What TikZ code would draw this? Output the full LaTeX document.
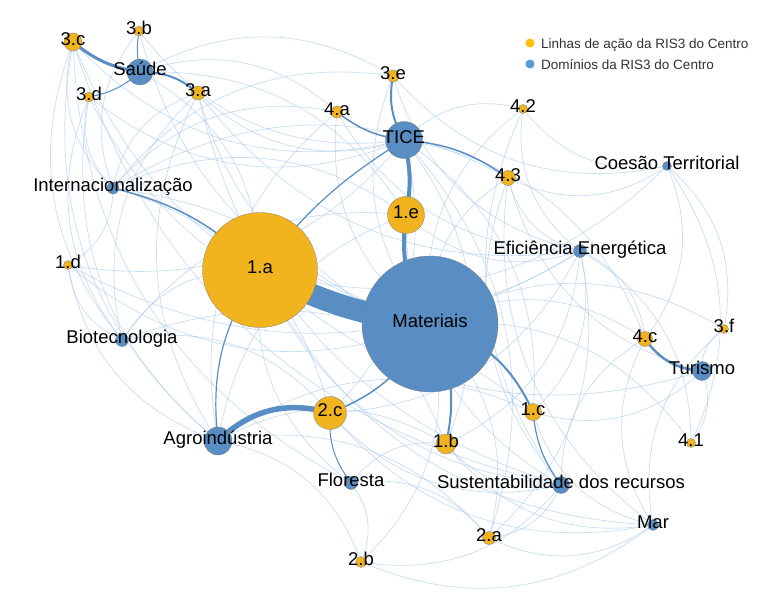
\documentclass[tikz,border=0pt]{standalone}
\usepackage{fontspec}
\setmainfont{Liberation Sans}
\pgfdeclarelayer{bg}
\pgfsetlayers{bg,main}
\definecolor{yel}{RGB}{242,180,30}
\definecolor{blu}{RGB}{88,142,196}
\definecolor{thinc}{RGB}{165,198,232}
\definecolor{rim}{RGB}{125,125,125}
\definecolor{legy}{RGB}{255,192,0}
\definecolor{legb}{RGB}{91,155,213}
\definecolor{legt}{RGB}{50,50,50}
\tikzset{
  lab/.style={font=\fontsize{18.5}{20}\selectfont, text=black, inner sep=0pt, text height=13.3pt, text depth=7pt},
  yn/.style={circle, fill=yel, draw=rim, line width=0.3pt, inner sep=0pt, minimum size=#1},
  bn/.style={circle, fill=blu, draw=rim, line width=0.3pt, inner sep=0pt, minimum size=#1},
  te/.style={draw=thinc, line width=0.7pt, opacity=0.6},
  me/.style={draw=blu, line width=#1},
  legtext/.style={font=\fontsize{13.5}{15}\selectfont, text=legt, anchor=base west, inner sep=0pt}
}
\begin{document}
\begin{tikzpicture}[x=1pt,y=-1pt]
\useasboundingbox (0,0) rectangle (780,616);
% yellow nodes (linhas de acao)
\node[yn=18]  (c3)  at (73,42)   [label={[lab]center:3.c}] {};
\node[yn=10]  (b3)  at (139,31)  [label={[lab]center:3.b}] {};
\node[yn=10]  (d3)  at (89,97)   [label={[lab]center:3.d}] {};
\node[yn=14]  (a3)  at (198,93)  [label={[lab]center:3.a}] {};
\node[yn=12]  (e3)  at (393,76)  [label={[lab]center:3.e}] {};
\node[yn=12]  (a4)  at (337,112) [label={[lab]center:4.a}] {};
\node[yn=9]   (n42) at (523,109) [label={[lab]center:4.2}] {};
\node[yn=15]  (n43) at (508,178) [label={[lab]center:4.3}] {};
\node[yn=37]  (e1)  at (406,215) [label={[lab]center:1.e}] {};
\node[yn=115] (a1)  at (260,270) [label={[lab]center:1.a}] {};
\node[yn=9]   (d1)  at (68,265)  [label={[lab]center:1.d}] {};
\node[yn=15]  (c4)  at (645,339) [label={[lab]center:4.c}] {};
\node[yn=9]   (f3)  at (724,329) [label={[lab]center:3.f}] {};
\node[yn=33]  (c2)  at (330,413) [label={[lab]center:2.c}] {};
\node[yn=17]  (c1)  at (533,412) [label={[lab]center:1.c}] {};
\node[yn=20]  (b1)  at (446,444) [label={[lab]center:1.b}] {};
\node[yn=9]   (n41) at (691,443) [label={[lab]center:4.1}] {};
\node[yn=13]  (a2)  at (489,538) [label={[lab]center:2.a}] {};
\node[yn=11]  (b2)  at (361,562) [label={[lab]center:2.b}] {};
% blue nodes (dominios)
\node[bn=26]  (sau)   at (140,72)  [label={[lab]center:Saúde}] {};
\node[bn=37]  (tice)  at (404,140) [label={[lab]center:TICE}] {};
\node[bn=12]  (inter) at (113,188) [label={[lab]center:Internacionalização}] {};
\node[bn=9]   (coes)  at (667,166) [label={[lab]center:Coesão Territorial}] {};
\node[bn=13]  (efic)  at (580,251) [label={[lab]center:Eficiência Energética}] {};
\node[bn=136] (mat)   at (430,324) [label={[lab]center:Materiais}] {};
\node[bn=13]  (biot)  at (122,340) [label={[lab]center:Biotecnologia}] {};
\node[bn=19]  (tur)   at (702,371) [label={[lab]center:Turismo}] {};
\node[bn=28]  (agro)  at (218,441) [label={[lab]center:Agroindústria}] {};
\node[bn=13]  (flor)  at (351,483) [label={[lab]center:Floresta}] {};
\node[bn=17]  (sust)  at (561,485) [label={[lab]center:Sustentabilidade dos recursos}] {};
\node[bn=11]  (mar)   at (653,525) [label={[lab]center:Mar}] {};
% legend
\node[circle, fill=legy, inner sep=0pt, minimum size=9] (ly) at (530,43) {};
\node[legtext] (lyt) at (541,48) {Linhas de ação da RIS3 do Centro};
\node[circle, fill=legb, inner sep=0pt, minimum size=9] (lb) at (530,64) {};
\node[legtext] (lbt) at (541,69) {Domínios da RIS3 do Centro};
\begin{pgfonlayer}{bg}
% thin edges
\foreach \s/\t in {c3/inter, c3/biot, c3/agro, c3/flor, c3/tice, c3/mat, c3/sust,
  b3/inter, b3/tice, b3/mat,
  d3/inter, d3/biot, d3/agro, d3/mat, d3/tice,
  a3/tice, a3/mat, a3/inter, a3/efic, a3/agro, a3/sust, a3/biot,
  e3/inter, e3/sau, e3/efic, e3/coes, e3/mat,
  a4/sau, a4/inter, a4/mat, a4/efic, a4/agro,
  n42/tice, n42/coes, n42/mat, n42/efic, n42/sust,
  n43/mat, n43/efic, n43/coes, n43/inter, n43/tur, n43/sust, n43/mar,
  e1/inter, e1/efic, e1/sust, e1/agro, e1/biot, e1/sau,
  a1/biot, a1/sau, a1/efic, a1/sust, a1/tur, a1/flor, a1/mar, a1/coes,
  d1/inter, d1/mat, d1/biot, d1/tice, d1/agro, d1/efic,
  c4/efic, c4/mat, c4/coes, c4/sust, c4/mar, c4/tice,
  f3/tur, f3/coes, f3/mat, f3/mar,
  c2/sust, c2/tice, c2/biot, c2/efic, c2/inter, c2/mar,
  c1/efic, c1/tur, c1/agro, c1/tice, c1/mar, c1/biot,
  b1/sust, b1/agro, b1/tice, b1/efic, b1/mar, b1/flor, b1/inter,
  n41/tur, n41/efic, n41/mat, n41/coes,
  a2/sust, a2/mar, a2/flor, a2/mat, a2/agro, a2/tice, a2/efic,
  b2/flor, b2/agro, b2/mat, b2/mar, b2/sust}
  \draw[te] (\s.center) to[bend right=30] (\t.center);
% stronger edges
\draw[me=22] (a1.center) to[bend right=10] (mat.center);
\draw[me=5.5] (agro.center) to[bend left=30] (c2.center);
\draw[me=3] (c3.center) to[bend right=15] (sau.center);
\draw[me=2] (sau.center) to[bend left=20] (a3.center);
\draw[me=1] (sau.center) to[bend left=10] (b3.center);
\draw[me=1] (sau.center) to[bend left=15] (d3.center);
\draw[me=2] (e3.center) to[bend right=20] (tice.center);
\draw[me=1.5] (a4.center) to[bend right=15] (tice.center);
\draw[me=4] (tice.center) to[bend left=12] (e1.center);
\draw[me=4] (e1.center) to[bend right=20] (mat.center);
\draw[me=1.5] (tice.center) to[bend left=15] (n43.center);
\draw[me=1.2] (tice.center) to[bend right=10] (a1.center);
\draw[me=2] (mat.center) to[bend left=20] (b1.center);
\draw[me=2] (mat.center) to[bend left=25] (c1.center);
\draw[me=1.2] (c1.center) to[bend right=15] (sust.center);
\draw[me=2.5] (c4.center) to[bend right=25] (tur.center);
\draw[me=1.5] (c2.center) to[bend right=20] (mat.center);
\draw[me=1.2] (agro.center) to[bend left=20] (a1.center);
\draw[me=1] (c2.center) to[bend right=20] (flor.center);
\draw[me=1.5] (inter.center) to[bend left=15] (a1.center);
\end{pgfonlayer}
\end{tikzpicture}
\end{document}
